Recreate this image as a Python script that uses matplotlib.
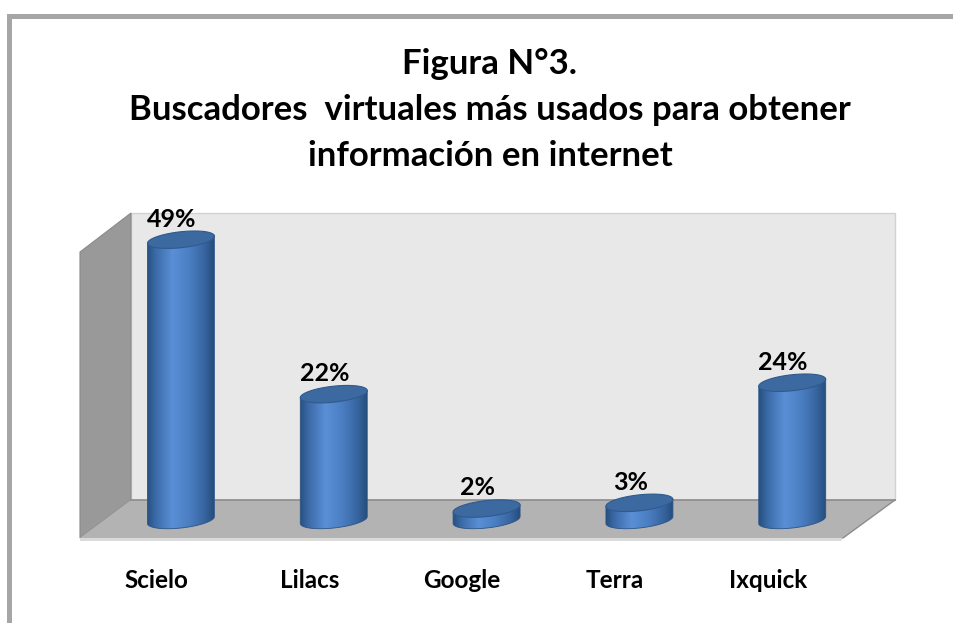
import numpy as np
import matplotlib
matplotlib.use("Agg")
import matplotlib.pyplot as plt
from matplotlib.patches import Polygon
from matplotlib.colors import LinearSegmentedColormap

# datos de la figura
buscadores = ["Scielo", "Lilacs", "Google", "Terra", "Ixquick"]
porcentajes = [49, 22, 2, 3, 24]
etiquetas = ["49%", "22%", "2%", "3%", "24%"]
titulo = ["Figura N°3.", "Buscadores  virtuales más usados para obtener", "información en internet"]

W, H = 954, 623
X0, DX = 181, 152.8   # pixel of first cylinder centre, spacing
Y0, SY = 520, 5.72    # pixel of base, pixels per percent

plt.rcParams['font.family'] = ['Lato', 'DejaVu Sans']
fig = plt.figure(figsize=(W / 100, H / 100), dpi=100)

# fondo en pixeles: marco, paredes y suelo
bg = fig.add_axes([0, 0, 1, 1])
bg.set_xlim(0, W)
bg.set_ylim(H, 0)
bg.axis("off")
bg.add_patch(Polygon([(7, 14), (W, 14), (W, 19), (12, 19), (12, H), (7, H)],
                     closed=True, fc="#a6a6a6", ec="none"))
bg.add_patch(Polygon([(131, 213), (895, 213), (895, 500), (131, 500)],
                     closed=True, fc="#e8e8e8", ec="#d2d2d2", lw=1))
bg.add_patch(Polygon([(80, 252), (131, 213), (131, 500), (80, 538)],
                     closed=True, fc="#999999", ec="#8a8a8a", lw=0.8))
bg.add_patch(Polygon([(80, 538), (131, 500), (895, 500), (843, 538)],
                     closed=True, fc="#b3b3b3", ec="none"))
bg.add_patch(Polygon([(80, 538), (843, 538), (841, 541), (80, 541)],
                     closed=True, fc="#dadada", ec="none"))
bg.plot([131, 895], [500, 500], color="#8c8c8c", lw=1.2)
bg.plot([895, 843], [500, 538], color="#8c8c8c", lw=1)

for k, linea in enumerate(titulo):
    bg.text(490, [64, 110, 156][k], linea, ha="center", va="center",
            fontsize=25, fontweight="bold", color="#000000")

# ejes de datos: x = indice de categoria, y = porcentaje
ax = fig.add_axes([0, 0, 1, 1])
ax.patch.set_alpha(0)
ax.set_xlim(-X0 / DX, (W - X0) / DX)
ax.set_ylim((Y0 - H) / SY, Y0 / SY)
ax.axis("off")

cmap = LinearSegmentedColormap.from_list("cil", [
    (0.0, "#27507f"), (0.12, "#3a69a6"), (0.38, "#5a8fd6"),
    (0.62, "#4c80c4"), (0.88, "#35629c"), (1.0, "#264d7c")])
grad = np.linspace(0, 1, 256).reshape(1, -1)

a = 33.5 / DX        # semi ancho
b = 8 / SY           # semi alto de la elipse
k = 3.5 / SY         # inclinacion de la elipse
t = np.linspace(0, 2 * np.pi, 120)

for i, v in enumerate(porcentajes):
    ex = i + a * np.cos(t)
    tb = np.linspace(np.pi, 2 * np.pi, 60)
    bx = i + a * np.cos(tb)
    by = b * np.sin(tb) + k * np.cos(tb)
    body = np.column_stack([np.r_[bx, i + a, i - a], np.r_[by, v + k, v - k]])
    clip = Polygon(body, closed=True, transform=ax.transData)
    im = ax.imshow(grad, cmap=cmap, extent=(i - a, i + a, -b - k - 1, v + b + k),
                   aspect="auto", zorder=3)
    im.set_clip_path(clip)
    ax.add_patch(Polygon(body, closed=True, fc="none", ec="#2b5487", lw=0.6, zorder=4))
    ey = v + b * np.sin(t) + k * np.cos(t)
    ax.add_patch(Polygon(np.column_stack([ex, ey]), closed=True,
                         fc="#3d69a1", ec="#2f5a8d", lw=0.8, zorder=5))
    ax.text(i - 0.06, v + 3.6, etiquetas[i], ha="center", va="center",
            fontsize=18, fontweight="bold", color="#000000", zorder=6)
    ax.text(i - 0.16, (Y0 - 581) / SY, buscadores[i], ha="center", va="center",
            fontsize=17.5, fontweight="bold", color="#000000")

fig.savefig("out.png", dpi=100)
